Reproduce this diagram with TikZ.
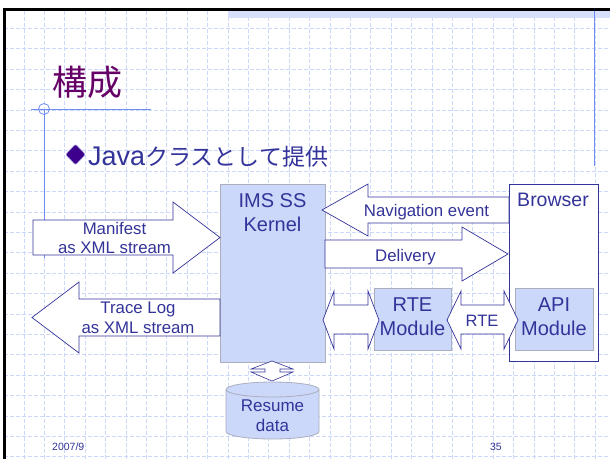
\documentclass[tikz,border=0pt]{standalone}
\usepackage{fontspec}
\setmainfont{Liberation Sans}
\newfontfamily\jp{Noto Sans CJK JP}
\usetikzlibrary{shapes.geometric}
\definecolor{ink}{RGB}{51,51,153}
\definecolor{boxfill}{RGB}{204,216,250}
\definecolor{boxline}{RGB}{170,174,190}
\definecolor{gridc}{RGB}{204,216,250}
\definecolor{accent}{RGB}{110,140,240}
\definecolor{titlec}{RGB}{102,0,102}
\definecolor{bandc}{RGB}{214,224,250}
\definecolor{bulletc}{RGB}{60,0,140}
\begin{document}
\begin{tikzpicture}[x=1pt,y=-1pt,
  blockarrow/.style={draw=ink, fill=white, line width=0.7pt, line join=miter},
  lbl/.style={text=ink, font=\fontsize{16.8}{19.6}\selectfont, align=center, inner sep=0pt},
  boxtxt/.style={text=ink, font=\fontsize{20}{24}\selectfont, align=center, inner sep=0pt},
  modbox/.style={draw=boxline, fill=boxfill, line width=0.8pt, inner sep=0pt},
  gridline/.style={draw=gridc, line width=0.8pt, dash pattern=on 4pt off 2pt},
  accentline/.style={draw=accent, line width=0.8pt}]
\useasboundingbox (0,0) rectangle (610,459);
\fill[white] (0,0) rectangle (610,459);
% grid
\foreach \k in {1,...,29} \draw[gridline] ({3.6+20.4*\k},11) -- ({3.6+20.4*\k},459);
\foreach \k in {1,...,22} \draw[gridline] (4,{8+20.4*\k}) -- (610,{8+20.4*\k});
% top band and frame
\fill[bandc] (228,11) rectangle (610,18.3);
\draw[black, line width=2.7pt] (3.3,9.3) -- (610,9.3);
\draw[black, line width=3pt] (4.7,8) -- (4.7,459);
% accent lines
\draw[accentline] (594.3,11) -- (594.3,166);
\draw[accentline] (31,109) -- (151,109);
\draw[accentline] (44,109) -- (44,258);
\draw[accentline] (44,109) circle (5.5pt);
% title
\node[anchor=base west, text=titlec, font=\jp\fontsize{35}{35}\selectfont, inner sep=0pt] (title) at (52,95) {構成};
% bullet
\node[diamond, fill=bulletc, draw={rgb,255:red,150;green,140;blue,210}, line width=0.6pt, rounded corners=2pt, minimum width=20, minimum height=21, inner sep=0pt] (bullet) at (75.5,154.5) {};
\node[anchor=base west, text=ink, inner sep=0pt] (sub) at (88,165) {{\fontsize{27}{27}\selectfont Java}{\jp\fontsize{23}{25}\selectfont クラスとして提供}};
% kernel
\node[modbox, minimum width=105, minimum height=178] (kernel) at (272.5,273) {};
\node[boxtxt] (kerneltxt) at (272.5,212.2) {IMS SS\\Kernel};
% browser
\node[draw=ink, fill=white, line width=0.9pt, minimum width=89, minimum height=177, inner sep=0pt] (browser) at (553.5,272.5) {};
\node[anchor=base, text=ink, font=\fontsize{19.5}{24}\selectfont, inner sep=0pt] (browsertxt) at (553,206) {Browser};
% manifest arrow
\path[blockarrow] (33,220) -- (173,220) -- (173,202) -- (220,237.5) -- (173,273) -- (173,255) -- (33,255) -- cycle;
\node[lbl] (manifest) at (114.5,238) {Manifest\\as XML stream};
% trace log arrow
\path[blockarrow] (220,299) -- (79,299) -- (79,282) -- (32,317.5) -- (79,353) -- (79,336) -- (220,336) -- cycle;
\node[lbl] (trace) at (138,318) {Trace Log\\as XML stream};
% navigation event arrow
\path[blockarrow] (509,197) -- (368,197) -- (368,184) -- (322,210) -- (368,236) -- (368,223) -- (509,223) -- cycle;
\node[lbl, anchor=base] (nav) at (426.5,216) {Navigation event};
% delivery arrow
\path[blockarrow] (325,240) -- (462,240) -- (462,227) -- (508,254) -- (462,281) -- (462,268) -- (325,268) -- cycle;
\node[lbl, anchor=base] (delivery) at (405.5,261.5) {Delivery};
% modules
\node[modbox, minimum width=77, minimum height=62] (rtemod) at (412.5,319) {};
\node[boxtxt] (rtemodtxt) at (412.5,316.5) {RTE\\Module};
\node[modbox, minimum width=78, minimum height=62] (apimod) at (554,319) {};
\node[boxtxt] (apimodtxt) at (554,316.5) {API\\Module};
% double arrows
\path[blockarrow] (323,320) -- (334,291) -- (334,305) -- (368,305) -- (368,291) -- (379,320) -- (368,349) -- (368,334) -- (334,334) -- (334,349) -- cycle;
\path[blockarrow] (447,320) -- (461,291) -- (461,305) -- (504,305) -- (504,291) -- (518,320) -- (504,349) -- (504,334) -- (461,334) -- (461,349) -- cycle;
\node[lbl, anchor=base, font=\fontsize{16.5}{19}\selectfont] (rtelbl) at (482,326) {RTE};
% small up-down arrow
\path[blockarrow, line width=0.6pt] (272,361) -- (293,369) -- (280,369) -- (280,372) -- (293,372) -- (272,381) -- (251,372) -- (265,372) -- (265,369) -- (251,369) -- cycle;
% resume data cylinder
\path[fill=boxfill, draw=boxline, line width=0.8pt] (226,389.5) -- (226,431.5)
  arc[start angle=180, end angle=360, x radius=46.5pt, y radius=7.5pt] -- (319,389.5)
  arc[start angle=0, end angle=180, x radius=46.5pt, y radius=7.5pt] -- cycle;
\draw[boxline, line width=0.8pt] (226,389.5) arc[start angle=180, end angle=360, x radius=46.5pt, y radius=7.5pt];
\node[lbl, font=\fontsize{17}{20}\selectfont] (resume) at (272.5,415.5) {Resume\\data};
% footer
\node[anchor=base west, text=ink, font=\fontsize{10.5}{12}\selectfont, inner sep=0pt] (date) at (52,450.5) {2007/9};
\node[anchor=base east, text=ink, font=\fontsize{10.5}{12}\selectfont, inner sep=0pt] (page) at (502,450.5) {35};
\end{tikzpicture}
\end{document}
